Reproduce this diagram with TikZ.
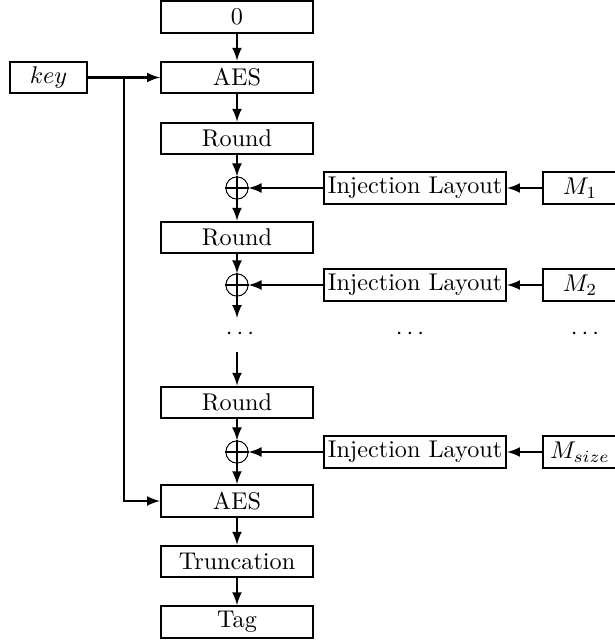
\documentclass[tikz,border=0pt]{standalone}
\usetikzlibrary{arrows}
\begin{document}
\begin{tikzpicture}[x=0.4132pt,y=-0.4132pt,>=latex,
  box/.style={draw,line width=0.85pt,rectangle,minimum height=13pt,inner sep=1pt},
  mainbox/.style={box,minimum width=62.8pt},
  keybox/.style={box,minimum width=31.8pt},
  ilbox/.style={box,minimum width=75.2pt,inner xsep=0.5pt},
  mbox/.style={box,minimum width=30.6pt},
  xorc/.style={draw,circle,thin,minimum size=9.2pt,inner sep=0pt},
  conn/.style={line width=0.85pt,->}]
\useasboundingbox (0,0) rectangle (615,641);
% main column
\node[mainbox] (zero) at (237,17) {0};
\node[mainbox] (aes1) at (237,77.5) {AES};
\node[mainbox] (r1) at (237,138.5) {Round};
\node[xorc] (x1) at (237,188) {};
\node[mainbox] (r2) at (237,237.5) {Round};
\node[xorc] (x2) at (237,285) {};
\coordinate (d1top) at (237,318);
\node (dots1) at (240,334) {$\cdots$};
\coordinate (d1bot) at (237,352);
\node[mainbox] (r3) at (237,402.5) {Round};
\node[xorc] (x3) at (237,452) {};
\node[mainbox] (aes2) at (237,501) {AES};
\node[mainbox] (trunc) at (237,561.5) {Truncation};
\node[mainbox] (tag) at (237,622) {Tag};
% key
\node[keybox] (key) at (48.5,77.5) {$key$};
\coordinate (kj) at (124,77.5);
% injection layouts
\node[ilbox] (il1) at (415,188) {Injection Layout};
\node[ilbox] (il2) at (415,285) {Injection Layout};
\node (dots2) at (410,334) {$\cdots$};
\node[ilbox] (il3) at (415,452) {Injection Layout};
\node[mbox] (m1) at (580,188) {$M_1$};
\node[mbox] (m2) at (580,285) {$M_2$};
\node (dots3) at (585,334) {$\cdots$};
\node[mbox] (m3) at (580,452) {$M_{size}$};
% crosses
\foreach \x in {x1,x2,x3}{\draw[line width=0.85pt] (\x.north) -- (\x.south) (\x.west) -- (\x.east);}
% connectors
\draw[conn] (zero) -- (aes1);
\draw[conn] (aes1) -- (r1);
\draw[conn] (r1) -- (x1);
\draw[conn] (x1) -- (r2);
\draw[conn] (r2) -- (x2);
\draw[conn] (x2) -- (d1top);
\draw[conn] (d1bot) -- (r3);
\draw[conn] (r3) -- (x3);
\draw[conn] (x3) -- (aes2);
\draw[conn] (aes2) -- (trunc);
\draw[conn] (trunc) -- (tag);
\draw[conn] (key) -- (aes1);
\draw[conn] (kj) |- (aes2);
\draw[conn] (il1) -- (x1);
\draw[conn] (il2) -- (x2);
\draw[conn] (il3) -- (x3);
\draw[conn] (m1) -- (il1);
\draw[conn] (m2) -- (il2);
\draw[conn] (m3) -- (il3);
\end{tikzpicture}
\end{document}
